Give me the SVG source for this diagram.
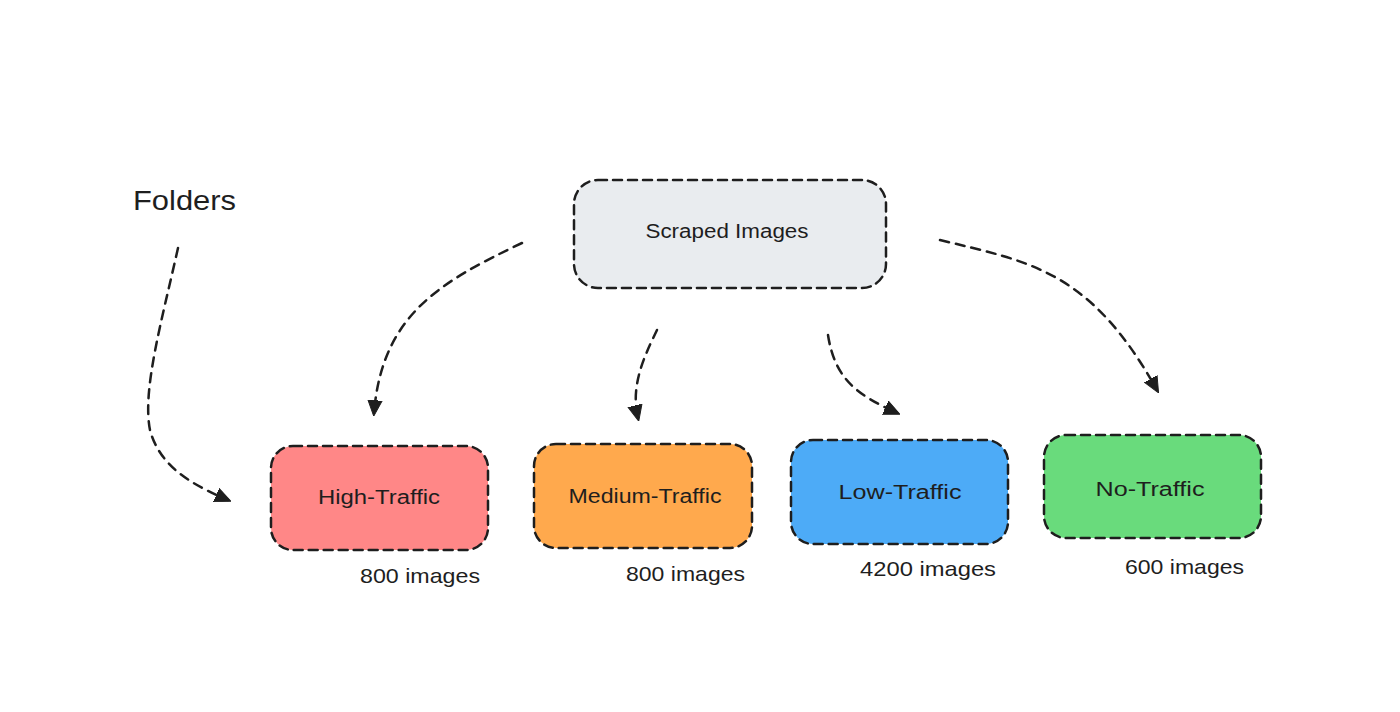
<svg xmlns="http://www.w3.org/2000/svg" width="1400" height="712" viewBox="0 0 1400 712">
<style>
.box{stroke:#1e1e1e;stroke-width:2.5;stroke-dasharray:9 6;stroke-linecap:round}
.lbl{font-family:"Liberation Sans","DejaVu Sans",sans-serif;font-size:20px;fill:#1e1e1e;text-anchor:middle}
.cnt{font-family:"Liberation Sans","DejaVu Sans",sans-serif;font-size:21px;fill:#1e1e1e}
.conn{fill:none;stroke:#1e1e1e;stroke-width:2.5;stroke-dasharray:9 7;stroke-linecap:round}
</style>
<defs>
<marker id="ah" viewBox="0 0 10 10" refX="8" refY="5" markerWidth="16" markerHeight="16" markerUnits="userSpaceOnUse" orient="auto">
<path d="M0,0.5 L10,5 L0,9.5 Z" fill="#1e1e1e" stroke="#1e1e1e" stroke-width="0.6" stroke-linejoin="round"/>
</marker>
</defs>
<rect width="1400" height="712" fill="#ffffff"/>
<g id="folders-label">
<text x="133" y="210" font-family="'Liberation Sans','DejaVu Sans',sans-serif" font-size="28" fill="#1e1e1e" textLength="103" lengthAdjust="spacingAndGlyphs">Folders</text>
</g>
<g id="scraped">
<rect class="box" x="574" y="180" width="312" height="108" rx="24" fill="#e9ecef"/>
<text class="lbl" x="727" y="238" textLength="163" lengthAdjust="spacingAndGlyphs">Scraped Images</text>
</g>
<g id="high">
<rect class="box" x="271" y="446" width="217" height="104" rx="22" fill="#ff8787"/>
<text class="lbl" x="379" y="504" textLength="122" lengthAdjust="spacingAndGlyphs">High-Traffic</text>
<text class="cnt" x="360" y="583" textLength="120" lengthAdjust="spacingAndGlyphs">800 images</text>
</g>
<g id="medium">
<rect class="box" x="534" y="444" width="218" height="104" rx="22" fill="#ffa94d"/>
<text class="lbl" x="645" y="503" textLength="153" lengthAdjust="spacingAndGlyphs">Medium-Traffic</text>
<text class="cnt" x="626" y="581" textLength="119" lengthAdjust="spacingAndGlyphs">800 images</text>
</g>
<g id="low">
<rect class="box" x="791" y="440" width="217" height="104" rx="22" fill="#4dabf7"/>
<text class="lbl" x="900" y="499" textLength="123" lengthAdjust="spacingAndGlyphs">Low-Traffic</text>
<text class="cnt" x="860" y="576" textLength="136" lengthAdjust="spacingAndGlyphs">4200 images</text>
</g>
<g id="none">
<rect class="box" x="1044" y="435" width="217" height="103" rx="22" fill="#69db7c"/>
<text class="lbl" x="1150" y="496" textLength="109" lengthAdjust="spacingAndGlyphs">No-Traffic</text>
<text class="cnt" x="1125" y="574" textLength="119" lengthAdjust="spacingAndGlyphs">600 images</text>
</g>
<g id="connectors">
<path class="conn" marker-end="url(#ah)" d="M178 248 C 162 320, 142 390, 150 430 C 160 468, 195 486, 228 500"/>
<path class="conn" marker-end="url(#ah)" d="M522 243 C 440 282, 382 315, 374 413"/>
<path class="conn" marker-end="url(#ah)" d="M657 330 C 645 355, 630 385, 638 418"/>
<path class="conn" marker-end="url(#ah)" d="M828 335 C 835 380, 858 395, 897 413"/>
<path class="conn" marker-end="url(#ah)" d="M940 240 C 1030 262, 1090 270, 1157 390"/>
</g>
</svg>
